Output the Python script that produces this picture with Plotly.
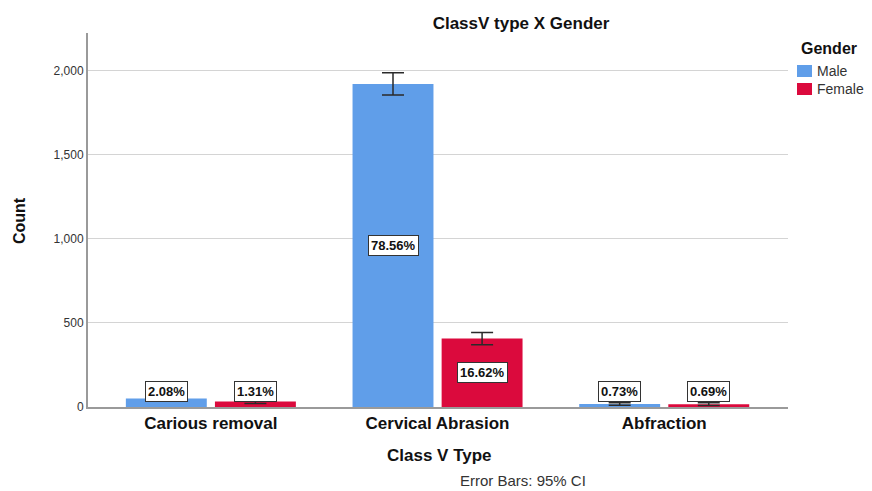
import plotly.graph_objects as go

categories = ["Carious removal", "Cervical Abrasion", "Abfraction"]
male_counts = [51, 1923, 18]
female_counts = [32, 407, 17]
male_err = [14, 66, 8]
female_err = [11, 37, 8]
male_pct = ["2.08%", "78.56%", "0.73%"]
female_pct = ["1.31%", "16.62%", "0.69%"]
y_ticks = [0, 500, 1000, 1500, 2000]
y_tick_text = ["0", "500", "1,000", "1,500", "2,000"]

MALE_C = "#609EE9"
FEMALE_C = "#DB0A3D"
FONT = "Liberation Sans, Arial, sans-serif"

# page has an 8px body margin; figure is sized to fit inside the window
W, H = 864, 483
L, R, T, B = 80, 84, 25, 84
PW, PH = W - L - R, H - T - B
OFF = 8


def px(x):  # screenshot x -> paper x
    return (x - OFF - L) / PW


def py(y):  # screenshot y -> paper y
    return (H - B - (y - OFF)) / PH


xpos = list(range(len(categories)))
bar_w = 0.357
gap = 0.018
ymax = 2226

fig = go.Figure()
fig.add_trace(go.Bar(
    x=xpos, y=male_counts, name="Male", marker_color=MALE_C, marker_line_width=0,
    width=bar_w, offset=-gap - bar_w, showlegend=False,
    error_y=dict(type="data", array=male_err, visible=True, color="#2a2a2a", thickness=1.5, width=11),
))
fig.add_trace(go.Bar(
    x=xpos, y=female_counts, name="Female", marker_color=FEMALE_C, marker_line_width=0,
    width=bar_w, offset=gap, showlegend=False,
    error_y=dict(type="data", array=female_err, visible=True, color="#2a2a2a", thickness=1.5, width=11),
))

for vals, pcts, off in [(male_counts, male_pct, -gap - bar_w / 2), (female_counts, female_pct, gap + bar_w / 2)]:
    for i, (v, p) in enumerate(zip(vals, pcts)):
        half_px = v / 2 / ymax * PH
        if half_px < 15:
            ann = dict(y=0, yanchor="bottom", yshift=5)
        else:
            ann = dict(y=v / 2, yanchor="middle")
        fig.add_annotation(
            x=i + off, xref="x", yref="y", text=p, showarrow=False,
            font=dict(family=FONT, size=13, color="#111", weight="bold"),
            bgcolor="white", bordercolor="#333", borderwidth=1, borderpad=2,
            **ann,
        )

# axis titles and footnote
fig.add_annotation(xref="paper", yref="paper", x=px(19), y=py(221), text="<b>Count</b>",
                   textangle=-90, showarrow=False, xanchor="center", yanchor="middle",
                   font=dict(family=FONT, size=16, color="#111"))
fig.add_annotation(xref="paper", yref="paper", x=px(439), y=py(455), text="<b>Class V Type</b>",
                   showarrow=False, xanchor="center", yanchor="middle",
                   font=dict(family=FONT, size=17, color="#111"))
fig.add_annotation(xref="paper", yref="paper", x=px(523), y=py(480), text="Error Bars: 95% CI",
                   showarrow=False, xanchor="center", yanchor="middle",
                   font=dict(family=FONT, size=15, color="#333"))

# legend (drawn by hand to match the reference placement)
fig.add_annotation(xref="paper", yref="paper", x=px(799), y=py(48), text="<b>Gender</b>",
                   showarrow=False, xanchor="left", yanchor="middle",
                   font=dict(family=FONT, size=16, color="#111"))
for name, col, cy in [("Male", MALE_C, 71), ("Female", FEMALE_C, 89)]:
    fig.add_shape(type="rect", xref="paper", yref="paper",
                  x0=px(797), x1=px(812), y0=py(cy - 6), y1=py(cy + 6),
                  fillcolor=col, line=dict(width=0))
    fig.add_annotation(xref="paper", yref="paper", x=px(815), y=py(cy), text=name,
                       showarrow=False, xanchor="left", yanchor="middle",
                       font=dict(family=FONT, size=14, color="#333"))

fig.update_layout(
    width=W, height=H,
    margin=dict(l=L, r=R, t=T, b=B, autoexpand=False),
    paper_bgcolor="white", plot_bgcolor="white",
    barmode="overlay",
    title=dict(text="<b>ClassV type X Gender</b>", xref="container", yref="container",
               x=(521 - OFF) / W, xanchor="center", y=1 - (23 - OFF) / H, yanchor="middle",
               font=dict(family=FONT, size=17, color="#111")),
    showlegend=False,
)
fig.update_xaxes(
    range=[-0.542, 2.546], tickvals=xpos, ticktext=categories, showgrid=False,
    showline=True, linecolor="#9a9a9a", linewidth=1.5, ticks="",
    tickfont=dict(family=FONT, size=17, color="#111", weight="bold"),
    zeroline=False,
)
fig.update_yaxes(
    range=[0, ymax], tickvals=y_ticks, ticktext=y_tick_text,
    showgrid=True, gridcolor="#d4d4d4", gridwidth=1,
    showline=True, linecolor="#9a9a9a", linewidth=2, ticks="",
    tickfont=dict(family=FONT, size=12, color="#333"),
    zeroline=False,
)

fig.write_html("out.html")
